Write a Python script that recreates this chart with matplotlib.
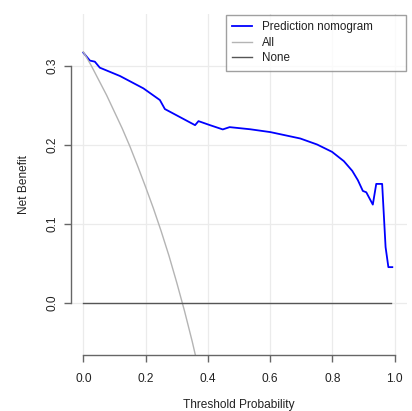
import matplotlib.pyplot as plt

plt.rcParams['font.family'] = ['Liberation Sans', 'DejaVu Sans']

# decision curve values
thresholds = [0.0, 0.021, 0.037, 0.053, 0.118, 0.193, 0.246, 0.262, 0.359, 0.370,
              0.407, 0.448, 0.47, 0.536, 0.601, 0.697, 0.751, 0.799, 0.837, 0.864,
              0.882, 0.898, 0.909, 0.930, 0.941, 0.960, 0.971, 0.980, 0.9926]
nomogram = [0.317, 0.307, 0.3056, 0.298, 0.2874, 0.2718, 0.257, 0.2456, 0.2252, 0.2303,
            0.2252, 0.2198, 0.2227, 0.220, 0.2164, 0.2083, 0.2007, 0.1914, 0.1796, 0.1673,
            0.1555, 0.1419, 0.1402, 0.1246, 0.1508, 0.1508, 0.0708, 0.0454, 0.0454]

all_t = [0.0, 0.025, 0.05, 0.075, 0.10, 0.125, 0.15, 0.175, 0.20, 0.225, 0.25,
         0.275, 0.30, 0.325, 0.35, 0.36]
all_nb = [0.318, 0.301, 0.282, 0.263, 0.242, 0.221, 0.198, 0.173, 0.147, 0.120,
          0.091, 0.060, 0.026, -0.010, -0.049, -0.066]

none_t = [0.0, 0.99]
none_nb = [0.0, 0.0]

xticks = [0.0, 0.2, 0.4, 0.6, 0.8, 1.0]
yticks = [0.0, 0.1, 0.2, 0.3]

fig = plt.figure(figsize=(4.12, 4.11), dpi=100)
ax = fig.add_axes([0.172, 0.136, 0.816, 0.830])

ax.set_xlim(-0.04, 1.04)
ax.set_ylim(-0.066, 0.366)

for x in xticks:
    ax.axvline(x, color='#ebebeb', lw=0.9, zorder=0)
for y in yticks:
    ax.axhline(y, color='#ebebeb', lw=0.9, zorder=0)

ax.plot(thresholds, nomogram, color='#0000ff', lw=1.3, label='Prediction nomogram')
ax.plot(all_t, all_nb, color='#b4b4b4', lw=1.0, label='All')
ax.plot(none_t, none_nb, color='#555555', lw=1.0, label='None')

for s in ['top', 'right']:
    ax.spines[s].set_visible(False)
ax.spines['left'].set_bounds(0.0, 0.3)
ax.spines['bottom'].set_bounds(0.0, 1.0)
for s in ['left', 'bottom']:
    ax.spines[s].set_color('#666666')
    ax.spines[s].set_linewidth(1.0)

ax.set_xticks(xticks)
ax.set_xticklabels(['%.1f' % v for v in xticks])
ax.set_yticks(yticks)
ax.set_yticklabels(['%.1f' % v for v in yticks], rotation=90, va='center')
ax.tick_params(colors='#666666', labelcolor='#222222', labelsize=8.6, length=5, width=1.0)
ax.tick_params(axis='x', pad=8)
ax.tick_params(axis='y', pad=3.6)

ax.set_xlabel('Threshold Probability', fontsize=8.6, color='#222222', labelpad=10)
ax.set_ylabel('Net Benefit', fontsize=8.6, color='#222222', labelpad=12)

leg = ax.legend(loc='upper left', bbox_to_anchor=(0.5485, 0.80, 0.437, 0.1635),
                bbox_transform=fig.transFigure, mode='expand', fontsize=8.4,
                frameon=True, fancybox=False, handlelength=1.7, handletextpad=0.85,
                borderpad=0.55, labelspacing=0.3, borderaxespad=0.0)
leg.get_frame().set_edgecolor('#888888')
leg.get_frame().set_linewidth(1.0)
for t in leg.get_texts():
    t.set_color('#222222')

fig.savefig('out.png', dpi=100)
